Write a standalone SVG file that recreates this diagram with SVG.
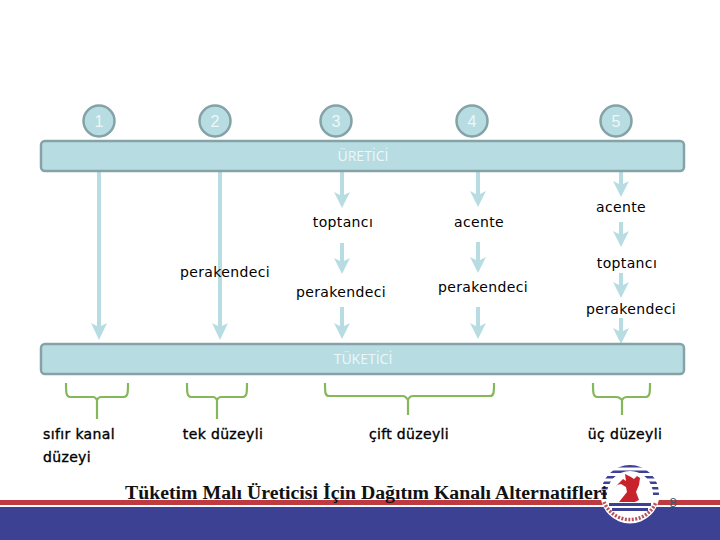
<svg xmlns="http://www.w3.org/2000/svg" width="720" height="540" viewBox="0 0 720 540">
<style>
.bar{fill:#b7dde3;stroke:#85a3a6;stroke-width:2.5}
.num{fill:#b7dde3;stroke:#85a3a6;stroke-width:2.5}
.nt{fill:#eef7f8;font:16px "Liberation Sans",Arial,sans-serif;text-anchor:middle}
.bt{fill:#eef7f8;font:14px "Open Sans","DejaVu Sans",sans-serif;text-anchor:middle}
.lb{fill:#000;font:14px "DejaVu Sans",sans-serif;text-anchor:middle;letter-spacing:.35px}
.sb{stroke:#000;stroke-width:.35}
.br{fill:none;stroke:#84b85a;stroke-width:2.2;stroke-linejoin:round}
</style>
<defs>
<clipPath id="ring"><path clip-rule="evenodd" d="M601 494a29 29 0 1 0 58 0a29 29 0 1 0-58 0zM607 494a23 23 0 1 0 46 0a23 23 0 1 0-46 0z"/></clipPath>
</defs>
<g id="footer">
<rect x="0" y="500" width="720" height="5" fill="#bf3a40"/>
<rect x="0" y="507" width="720" height="33" fill="#3c4193"/>
</g>
<g id="connectors" fill="#b7dde3">
<path id="a1" d="M97 171h4v155l6-3 -8 17 -8-17 6 3z"/>
<path id="a2" d="M218 171h4v155l6-3 -8 17 -8-17 6 3z"/>
<path id="a3a" d="M340 171h4v24l6-3 -8 16 -8-16 6 3z"/>
<path id="a3b" d="M340 243h4v18l6-3 -8 16 -8-16 6 3z"/>
<path id="a3c" d="M340 307h4v19l6-3 -8 16 -8-16 6 3z"/>
<path id="a4a" d="M476 171h4v23l6-3 -8 16 -8-16 6 3z"/>
<path id="a4b" d="M476 242h4v18l6-3 -8 16 -8-16 6 3z"/>
<path id="a4c" d="M476 307h4v19l6-3 -8 16 -8-16 6 3z"/>
<path id="a5a" d="M619 171h4v13l6-3 -8 16 -8-16 6 3z"/>
<path id="a5b" d="M619 222h4v12l6-3 -8 16 -8-16 6 3z"/>
<path id="a5c" d="M619 273h4v12l6-3 -8 16 -8-16 6 3z"/>
<path id="a5d" d="M619 318h4v13l6-3 -8 16 -8-16 6 3z"/>
</g>
<g id="n1"><circle class="num" cx="99" cy="121" r="15.500"/><text class="nt" x="99" y="127">1</text></g>
<g id="n2"><circle class="num" cx="215" cy="121" r="15.500"/><text class="nt" x="215" y="127">2</text></g>
<g id="n3"><circle class="num" cx="336" cy="121" r="15.500"/><text class="nt" x="336" y="127">3</text></g>
<g id="n4"><circle class="num" cx="472" cy="121" r="15.500"/><text class="nt" x="472" y="127">4</text></g>
<g id="n5"><circle class="num" cx="616" cy="121" r="15.500"/><text class="nt" x="616" y="127">5</text></g>
<g id="ureteci"><rect class="bar" x="41" y="141" width="643" height="30" rx="4"/><text class="bt" x="363" y="161">ÜRETİCİ</text></g>
<g id="tuketici"><rect class="bar" x="41" y="344" width="643" height="30" rx="4"/><text class="bt" x="363" y="364">TÜKETİCİ</text></g>
<g id="l1"><text class="lb" x="343" y="227">toptancı</text></g>
<g id="l2"><text class="lb" x="479" y="227">acente</text></g>
<g id="l3"><text class="lb" x="621" y="212">acente</text></g>
<g id="l4"><text class="lb" x="627" y="268">toptancı</text></g>
<g id="l5"><text class="lb" x="225" y="277">perakendeci</text></g>
<g id="l6"><text class="lb" x="341" y="297">perakendeci</text></g>
<g id="l7"><text class="lb" x="483" y="292">perakendeci</text></g>
<g id="l8"><text class="lb" x="631" y="314">perakendeci</text></g>
<g id="b1"><path class="br" d="M66 383c0 9 0 14 4 14h23c2 0 3 1 4 3 1-2 2-3 4-3h23c4 0 4-5 4-14M97 399v20"/><text class="lb sb" x="79" y="439">sıfır kanal</text><text class="lb sb" x="67" y="462">düzeyi</text></g>
<g id="b2"><path class="br" d="M187 383c0 9 0 14 4 14h22c2 0 3 1 4 3 1-2 2-3 4-3h22c4 0 4-5 4-14M217 399v20"/><text class="lb sb" x="223" y="439">tek düzeyli</text></g>
<g id="b3"><path class="br" d="M325 383c0 9 0 13 4 13h74c2 0 3 1 5 4 1-3 3-4 5-4h77c4 0 4-4 4-13M408 399v16"/><text class="lb sb" x="409" y="439">çift düzeyli</text></g>
<g id="b4"><path class="br" d="M593 383c0 9 0 14 4 14h20c2 0 3 1 5 3 1-2 3-3 5-3h19c4 0 4-5 4-14M622 399v16"/><text class="lb sb" x="625" y="439">üç düzeyli</text></g>
<g id="logo">
<circle cx="630" cy="494" r="29.500" fill="#fff"/>
<g clip-path="url(#ring)" fill="#3c4193">
<rect x="600" y="465" width="60" height="2.500"/><rect x="600" y="470.500" width="60" height="2.500"/><rect x="600" y="476" width="60" height="2.500"/><rect x="600" y="481.500" width="60" height="2.500"/><rect x="600" y="487" width="60" height="2.500"/><rect x="600" y="492.500" width="60" height="2.500"/>
</g>
<rect x="609" y="503" width="42" height="3" fill="#3c4193"/>
<rect x="612" y="508" width="36" height="3" fill="#3c4193"/>
<path d="M618 484l5-5 3 2 -1-7 6 3 3 2 3-3 3 2 -1 7 -3 7 3 8 -4 2h-16l4-5 4-5 -1-5-5-3-4 1-2 3z" fill="#c8232c"/>
<path d="M604 502a28 28 0 0 0 52 0" fill="none" stroke="#b5525c" stroke-width="3.500" stroke-dasharray="2 1.500"/>
</g>
<g id="title"><text x="125" y="499" font-family="'Liberation Serif','Times New Roman',serif" font-size="18" font-weight="bold" fill="#111" textLength="482" lengthAdjust="spacingAndGlyphs">Tüketim Malı Üreticisi İçin Dağıtım Kanalı Alternatifleri</text></g>
<g id="page"><text x="673" y="507" font-family="'Liberation Sans',Arial,sans-serif" font-size="13" fill="#2e5f6b" text-anchor="middle">8</text></g>
</svg>
